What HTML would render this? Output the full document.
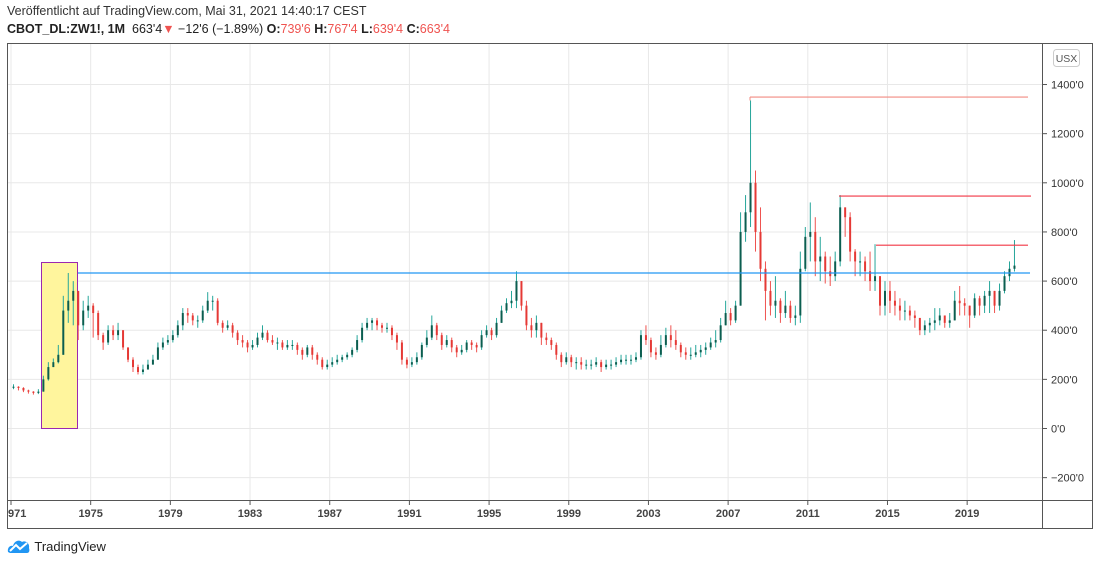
<!DOCTYPE html>
<html><head><meta charset="utf-8"><style>
body{margin:0;width:1100px;height:565px;background:#fff;font-family:"Liberation Sans",sans-serif;overflow:hidden;position:relative}
.t{position:absolute;white-space:nowrap}
</style></head><body>
<div class="t" style="left:7px;top:4px;font-size:12.5px;color:#333">Veröffentlicht auf TradingView.com, Mai 31, 2021 14:40:17 CEST</div>
<div class="t" style="left:7px;top:22px;font-size:12.5px;color:#222"><b>CBOT_DL:ZW1!, 1M</b>&nbsp; 663'4<span style="color:#ef5350">▼</span> −12'6 (−1.89%) <b>O:</b><span style="color:#ef5350">739'6</span> <b>H:</b><span style="color:#ef5350">767'4</span> <b>L:</b><span style="color:#ef5350">639'4</span> <b>C:</b><span style="color:#ef5350">663'4</span></div>
<svg id="chart" width="1100" height="565" style="position:absolute;left:0;top:0" xmlns="http://www.w3.org/2000/svg"></svg>
<div class="t" style="left:7px;top:538px;font-size:13px;color:#222">
<svg width="24" height="16" viewBox="0 0 24 16" style="vertical-align:-3px"><path d="M1 14 C0 9 4 7 6 8 C7 3 12 1 15 4 C18 2 23 5 22 10 C23 13 22 15 20 15 L3 15 Z" fill="#2196f3"/><path d="M3 13 L9 7 L13 11 L20 5" stroke="#fff" stroke-width="2" fill="none"/></svg> TradingView</div>
<script>
const closes=[170,165,155,150,145,150,200,250,270,300,480,520,560,420,480,500,470,380,350,400,380,400,330,280,250,230,240,260,280,330,350,360,380,420,470,460,440,440,480,520,520,430,410,420,390,360,350,330,340,370,390,360,350,350,330,340,340,320,300,330,300,280,250,260,270,280,290,300,320,360,410,430,440,420,410,410,380,350,280,260,270,290,340,370,420,380,340,360,330,310,320,350,340,330,380,400,380,430,480,510,520,600,500,420,400,430,370,360,340,300,270,290,270,270,260,260,260,270,250,260,260,270,280,280,280,290,380,360,310,300,340,380,360,340,310,300,300,310,320,330,350,360,420,470,440,500,800,880,1000,800,650,560,500,520,470,500,450,460,650,780,800,680,700,640,620,680,900,860,720,680,680,640,600,620,500,560,520,500,480,480,460,450,400,420,430,440,460,430,440,520,510,500,460,530,500,540,560,500,560,620,650,663];
const highs=[180,172,168,158,152,160,215,270,285,340,540,633,600,560,520,540,510,480,390,420,420,430,400,330,290,260,260,280,300,350,370,380,400,440,490,490,470,460,500,555,540,530,440,440,430,400,380,360,360,390,420,400,380,370,360,360,360,350,330,340,340,310,290,280,290,300,300,310,330,380,430,450,450,450,430,430,420,390,360,290,290,310,350,400,460,430,390,380,370,340,340,360,360,350,400,420,410,450,500,530,560,640,600,520,450,460,430,390,370,350,310,310,300,290,290,280,280,290,280,280,280,290,300,300,300,310,400,420,370,330,380,410,420,400,350,330,330,340,340,350,370,400,450,520,490,520,880,950,1335,1050,900,680,600,620,530,560,520,500,720,820,920,860,780,720,700,720,950,900,880,730,720,700,720,750,620,600,600,560,530,520,500,480,450,440,450,490,490,460,470,560,580,530,500,550,540,560,600,560,590,640,680,767];
const lows=[160,155,148,142,138,140,150,195,250,265,300,430,420,360,400,450,370,360,320,340,360,360,320,270,230,220,220,240,260,280,320,340,350,370,400,430,420,410,430,470,480,420,390,400,370,340,330,310,320,330,360,350,340,320,320,320,320,300,280,290,280,260,240,240,250,260,270,280,290,310,350,400,400,400,390,390,360,320,260,245,250,260,280,330,360,360,320,330,310,290,300,310,320,310,320,370,360,370,430,470,490,490,480,400,370,370,340,340,320,280,250,260,250,240,240,240,240,250,230,240,240,250,260,260,260,270,280,340,290,280,290,330,330,320,290,280,280,290,290,300,320,330,350,420,420,430,500,760,820,720,600,440,460,450,430,450,430,420,430,640,680,620,600,590,580,600,660,780,680,620,620,600,560,560,460,460,470,460,440,440,440,410,380,380,390,400,420,410,410,440,460,460,410,450,460,470,470,470,480,550,600,639];
const startYear=1971;
const yTicks=[-200,0,200,400,600,800,1000,1200,1400];
const xTickYears=[1971,1975,1979,1983,1987,1991,1995,1999,2003,2007,2011,2015,2019];
const hLevels=[633,1349,946,746];
const NS='http://www.w3.org/2000/svg';
const svg=document.getElementById('chart');
const X=yr=>11+(yr-startYear)*19.92;
const Y=v=>428.5-v*0.2457;
function el(tag,a,parent){const e=document.createElementNS(NS,tag);for(const k in a)e.setAttribute(k,a[k]);(parent||svg).appendChild(e);return e;}
let f=el('rect',{x:7.5,y:43.5,width:1085,height:485,fill:'none',stroke:'#555'});


el('line',{x1:1042.5,y1:43,x2:1042.5,y2:528,stroke:'#555'});
el('line',{x1:7,y1:500.5,x2:1093,y2:500.5,stroke:'#555'});
yTicks.forEach(v=>{
  el('line',{x1:8,y1:Y(v),x2:1042,y2:Y(v),stroke:'#e8e8e8'});
  el('line',{x1:1042,y1:Y(v),x2:1047,y2:Y(v),stroke:'#555'});
  const t=el('text',{x:1051,y:Y(v)+4,'font-size':11,fill:'#333','font-family':'Liberation Sans'});
  t.textContent=(v<0?'−'+(-v):v)+"'0";
  
  
});
xTickYears.forEach(yr=>{
  const x=X(yr);
  el('line',{x1:x,y1:44,x2:x,y2:500,stroke:'#e8e8e8'});
  el('line',{x1:x,y1:500,x2:x,y2:505,stroke:'#555'});
  const t=el('text',{x:yr===1971?8:x,y:517,'font-size':11,'font-weight':'bold',fill:'#444','text-anchor':yr===1971?'start':'middle','font-family':'Liberation Sans'});
  t.textContent=yr===1971?'971':yr;
  
  
});
let hb=el('rect',{x:41.5,y:262.5,width:36,height:166,fill:'#fff59d',stroke:'#9c27b0','stroke-width':1});


for(let i=0;i<closes.length;i++){
  const o=i?closes[i-1]:closes[0],c=closes[i];
  const x=X(startYear+(i+0.5)/4);
  const up=c>=o,col=up?'#26a69a':'#ef5350';
  const g=el('g',{});
  
  
  el('line',{x1:x,y1:Y(highs[i]),x2:x,y2:Y(lows[i]),stroke:col,'stroke-width':1},g);
  const top=Y(Math.max(o,c)),bot=Y(Math.min(o,c));
  el('rect',{x:x-1,y:top,width:2,height:Math.max(1,bot-top),fill:up?'#0b5e50':'#e53935'},g);
}
const hStart=[78,750,839,876],hEnd=[1030,1028,1031,1028],hCol=['#2196f3','#f28b82','#f23645','#f23645'];
hLevels.forEach((v,k)=>{
  const l=el('line',{x1:hStart[k],y1:Y(v),x2:hEnd[k],y2:Y(v),stroke:hCol[k],'stroke-width':1.2});
  
  
});
el('line',{x1:750,y1:Y(1349),x2:750,y2:Y(1335),stroke:'#f28b82'});
let b=el('rect',{x:1053.5,y:49.5,width:26,height:17,rx:3,fill:'#fff',stroke:'#ccc'});


const ut=el('text',{x:1066.5,y:62,'font-size':10.5,fill:'#555','text-anchor':'middle','font-family':'Liberation Sans'});
ut.textContent='USX';
</script>
</body></html>
